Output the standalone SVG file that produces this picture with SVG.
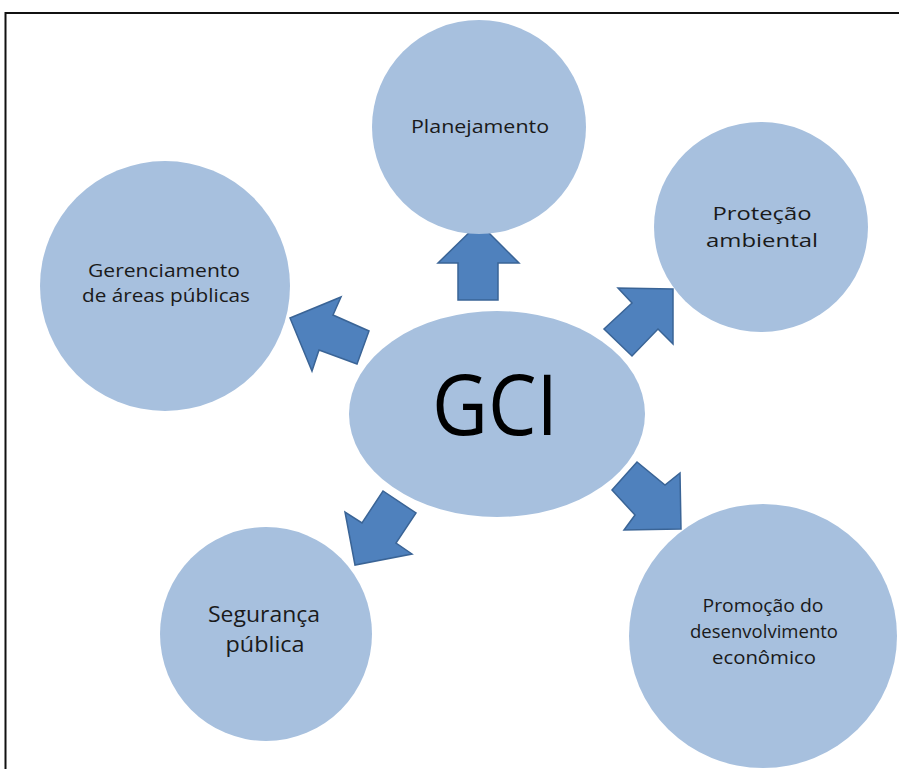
<svg xmlns="http://www.w3.org/2000/svg" width="899" height="769" viewBox="0 0 899 769">
  <style>
    .node { fill: #A7C0DE; }
    .arrow { fill: #4F81BD; stroke: #3A6496; stroke-width: 1.5; stroke-linejoin: miter; }
    .lbl { font-family: "Open Sans", "Liberation Sans", sans-serif; fill: #1A1A1A; text-anchor: middle; }
  </style>
  <rect width="899" height="769" fill="#FFFFFF"/>
  <!-- frame: top and left edges only -->
  <path d="M5.5 769 V13 H899" fill="none" stroke="#111111" stroke-width="2"/>

  <g id="connectors">
    <polygon class="arrow" points="479,223 519,263 498,263 498,300 458,300 458,263 438,263"/>
    <polygon class="arrow" points="290,318 341,297 333,315 369,331 357,364 319,350 312,371"/>
    <polygon class="arrow" points="673,289 673,344 658,329 632,356 604,329 632,303 618,288"/>
    <polygon class="arrow" points="681,529 624,530 635,515 612,490 637,462 665,485 680,473"/>
    <polygon class="arrow" points="355,565 345,512 362,523 383,491 416,513 396,543 412,554"/>
  </g>

  <g id="planejamento">
    <ellipse class="node" cx="479" cy="127" rx="107" ry="107"/>
    <text class="lbl" x="480" y="133" font-size="19" textLength="138" lengthAdjust="spacingAndGlyphs">Planejamento</text>
  </g>

  <g id="protecao-ambiental">
    <ellipse class="node" cx="761" cy="227" rx="107" ry="105"/>
    <text class="lbl" x="762" y="220" font-size="19" textLength="99" lengthAdjust="spacingAndGlyphs">Proteção</text>
    <text class="lbl" x="762" y="247" font-size="19" textLength="112" lengthAdjust="spacingAndGlyphs">ambiental</text>
  </g>

  <g id="gerenciamento">
    <ellipse class="node" cx="165" cy="286" rx="125" ry="125"/>
    <text class="lbl" x="164" y="277" font-size="18" textLength="152" lengthAdjust="spacingAndGlyphs">Gerenciamento</text>
    <text class="lbl" x="166" y="302" font-size="18" textLength="168" lengthAdjust="spacingAndGlyphs">de áreas públicas</text>
  </g>

  <g id="gci">
    <ellipse class="node" cx="497" cy="414" rx="148" ry="103"/>
    <text class="lbl" x="495" y="435" font-size="84" style="fill:#000000" textLength="126" lengthAdjust="spacingAndGlyphs">GCI</text>
  </g>

  <g id="seguranca-publica">
    <ellipse class="node" cx="266" cy="634" rx="106" ry="107"/>
    <text class="lbl" x="264" y="622" font-size="21" textLength="112" lengthAdjust="spacingAndGlyphs">Segurança</text>
    <text class="lbl" x="265" y="652" font-size="21" textLength="79" lengthAdjust="spacingAndGlyphs">pública</text>
  </g>

  <g id="promocao-desenvolvimento">
    <ellipse class="node" cx="763" cy="636" rx="134" ry="132"/>
    <text class="lbl" x="763" y="612" font-size="18" textLength="121" lengthAdjust="spacingAndGlyphs">Promoção do</text>
    <text class="lbl" x="764" y="638" font-size="18" textLength="148" lengthAdjust="spacingAndGlyphs">desenvolvimento</text>
    <text class="lbl" x="764" y="664" font-size="18" textLength="104" lengthAdjust="spacingAndGlyphs">econômico</text>
  </g>
</svg>
